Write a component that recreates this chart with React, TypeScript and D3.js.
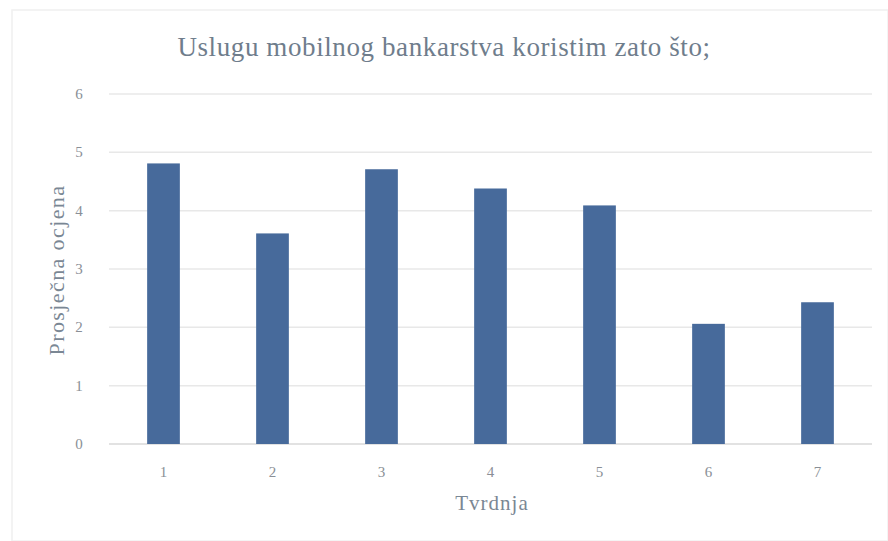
import React from "react";
import * as d3 from "d3";

const categories = ["1", "2", "3", "4", "5", "6", "7"];
const values = [4.81, 3.61, 4.71, 4.38, 4.09, 2.06, 2.43];
const yTicks = [0, 1, 2, 3, 4, 5, 6];
const title = "Uslugu mobilnog bankarstva koristim zato što;";
const xTitle = "Tvrdnja";
const yTitle = "Prosječna ocjena";

export default function App() {
  const W = 888, H = 541;
  const left = 109, right = 872, top = 94, bottom = 444;
  const x = d3.scaleBand().domain(categories).range([left, right]).paddingInner(0.7).paddingOuter(0.35);
  const y = d3.scaleLinear().domain([0, 6]).range([bottom, top]);
  const font = "'Liberation Serif', 'DejaVu Serif', serif";
  return (
    <svg width={W} height={H} style={{ position: "absolute", left: 0, top: 0, background: "#fff" }}>
      <rect x={12} y={10} width={W - 12} height={H - 10} fill="none" stroke="#f0f0f0" strokeWidth={1.5} />
      <text x={444} y={56} textAnchor="middle" fontFamily={font} fontSize={27} letterSpacing={0.6} fill="#6f7d8c">{title}</text>
      {yTicks.map((t) => (
        <g key={t}>
          <line x1={left} x2={right} y1={y(t)} y2={y(t)} stroke={t === 0 ? "#d9d9d9" : "#e8e8e8"} strokeWidth={1.5} />
          <text x={79} y={y(t) + 5} textAnchor="middle" fontFamily={font} fontSize={15} fill="#8a8f96">{t}</text>
        </g>
      ))}
      {categories.map((c, i) => (
        <g key={c}>
          <rect x={x(c)} y={y(values[i])} width={x.bandwidth()} height={bottom - y(values[i])} fill="#476a9b" />
          <text x={(x(c) as number) + x.bandwidth() / 2} y={477} textAnchor="middle" fontFamily={font} fontSize={15} fill="#8a8f96">{c}</text>
        </g>
      ))}
      <text x={492} y={510} textAnchor="middle" fontFamily={font} fontSize={21} letterSpacing={1} fill="#7a8794">{xTitle}</text>
      <text transform={`translate(64, 270) rotate(-90)`} textAnchor="middle" fontFamily={font} fontSize={22} letterSpacing={1.4} fill="#7a8794">{yTitle}</text>
    </svg>
  );
}
